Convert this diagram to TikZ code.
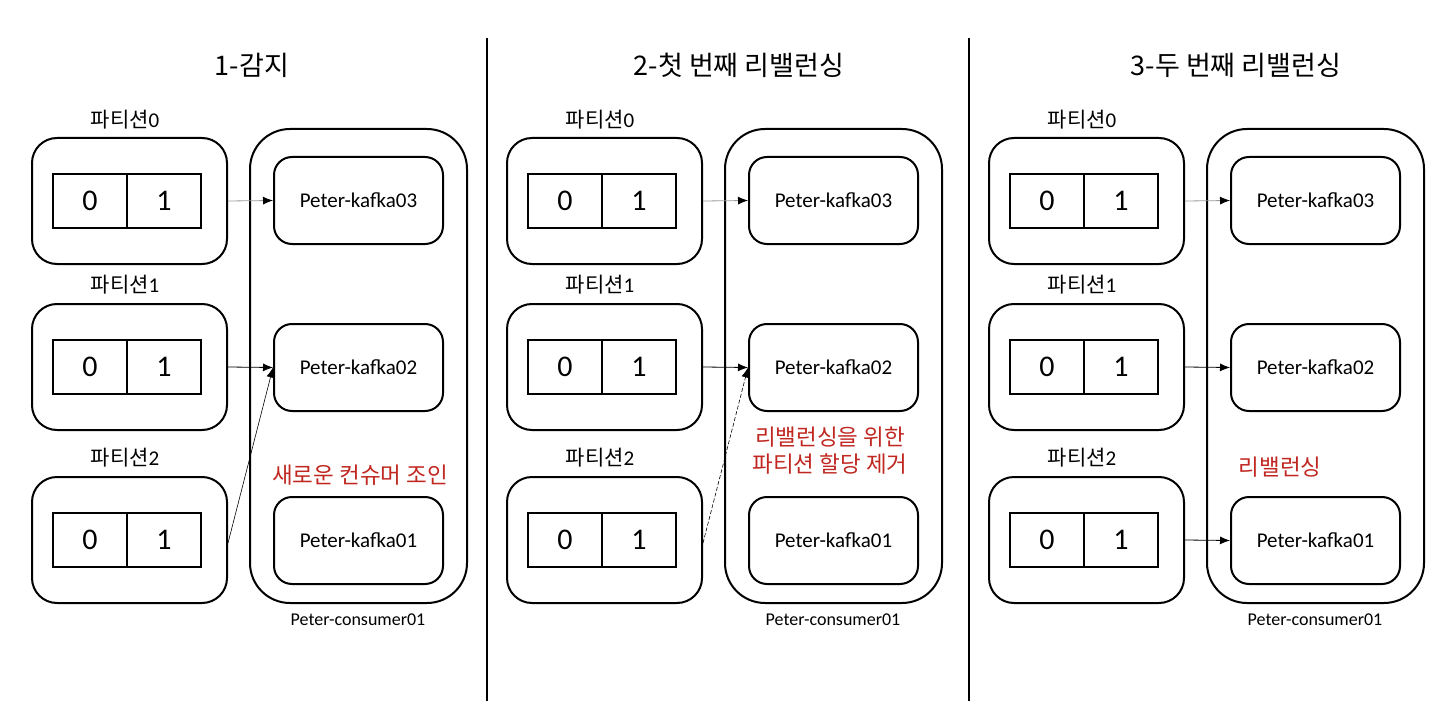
\documentclass[tikz,border=0pt]{standalone}
\usepackage{fontspec}
\setmainfont{Carlito}
\newfontfamily\kr{Noto Sans CJK KR}
\usetikzlibrary{arrows.meta}
\definecolor{redtxt}{RGB}{192,39,32}
\begin{document}
\begin{tikzpicture}[x=1pt,y=-1pt,
  partbox/.style={draw,line width=2pt,rounded corners=25pt,minimum width=195pt,minimum height=126pt},
  cellbox/.style={draw,line width=2pt,minimum width=74pt,minimum height=54pt,inner sep=0pt,font=\fontsize{30}{30}\selectfont},
  consbox/.style={draw,line width=2pt,rounded corners=40pt,minimum width=217pt,minimum height=474pt},
  kbox/.style={draw,line width=2pt,rounded corners=18pt,minimum width=169pt,minimum height=87pt,font=\fontsize{21}{25}\selectfont},
  plabel/.style={font=\fontsize{21}{24}\selectfont,inner sep=0pt},
  ttl/.style={font=\kr\fontsize{27}{30}\selectfont,inner sep=0pt},
  clabel/.style={font=\fontsize{18}{22}\selectfont,inner sep=0pt},
  note/.style={text=redtxt,font=\kr\fontsize{22.5}{27}\selectfont,align=center,inner sep=0pt},
  link/.style={line width=0.8pt,-{Latex[length=10pt,width=8pt,color=black]}},
  divider/.style={line width=2.2pt}
]
\useasboundingbox (0,0) rectangle (1456,722);
\foreach \i/\o in {1/0,2/475,3/957}{
  \begin{scope}[xshift=\o pt]
    % partitions
    \foreach \j/\y/\ly in {0/201/120,1/367/285,2/540/458}{
      \node[partbox] (p\i\j) at (129.5,\y) {};
      \node[cellbox] (c\i\j a) at (90,\y) {0};
      \node[cellbox] (c\i\j b) at (164,\y) {1};
      \node[plabel] (l\i\j) at (125,\ly) {{\kr 파티션}\j};
    }
    % consumer
    \node[consbox] (cons\i) at (358.5,366) {};
    \node[kbox] (k\i3) at (358.5,200.5) {Peter-kafka03};
    \node[kbox] (k\i2) at (358.5,367.5) {Peter-kafka02};
    \node[kbox] (k\i1) at (358.5,540.5) {Peter-kafka01};
    \node[clabel] (cl\i) at (358,620) {Peter-consumer01};
    \draw[link,draw=black!40] (p\i0.east) -- (k\i3.west);
    \draw[link] (p\i1.east) -- (k\i2.west);
  \end{scope}
}
% titles
\node[ttl] (t1) at (252,65) {1-감지};
\node[ttl] (t2) at (739,65) {2-첫 번째 리밸런싱};
\node[ttl] (t3) at (1236,65) {3-두 번째 리밸런싱};
% notes
\node[note] (n1) at (360,475) {새로운 컨슈머 조인};
\node[note] (n2) at (830,451) {리밸런싱을 위한\\파티션 할당 제거};
\node[note] (n3) at (1280,467) {리밸런싱};
% partition 2 links
\draw[link,line width=0.6pt] ([yshift=-3pt]p12.east) -- (k12.west);
\draw[link,line width=0.6pt,dashed,dash pattern=on 4pt off 2pt] ([yshift=-3pt]p22.east) -- (k22.west);
\draw[link] (p32.east) -- (k31.west);
% dividers
\coordinate (d1a) at (487,38); \coordinate (d1b) at (487,701);
\coordinate (d2a) at (969,38); \coordinate (d2b) at (969,701);
\draw[divider] (d1a) -- (d1b);
\draw[divider] (d2a) -- (d2b);
\end{tikzpicture}
\end{document}
